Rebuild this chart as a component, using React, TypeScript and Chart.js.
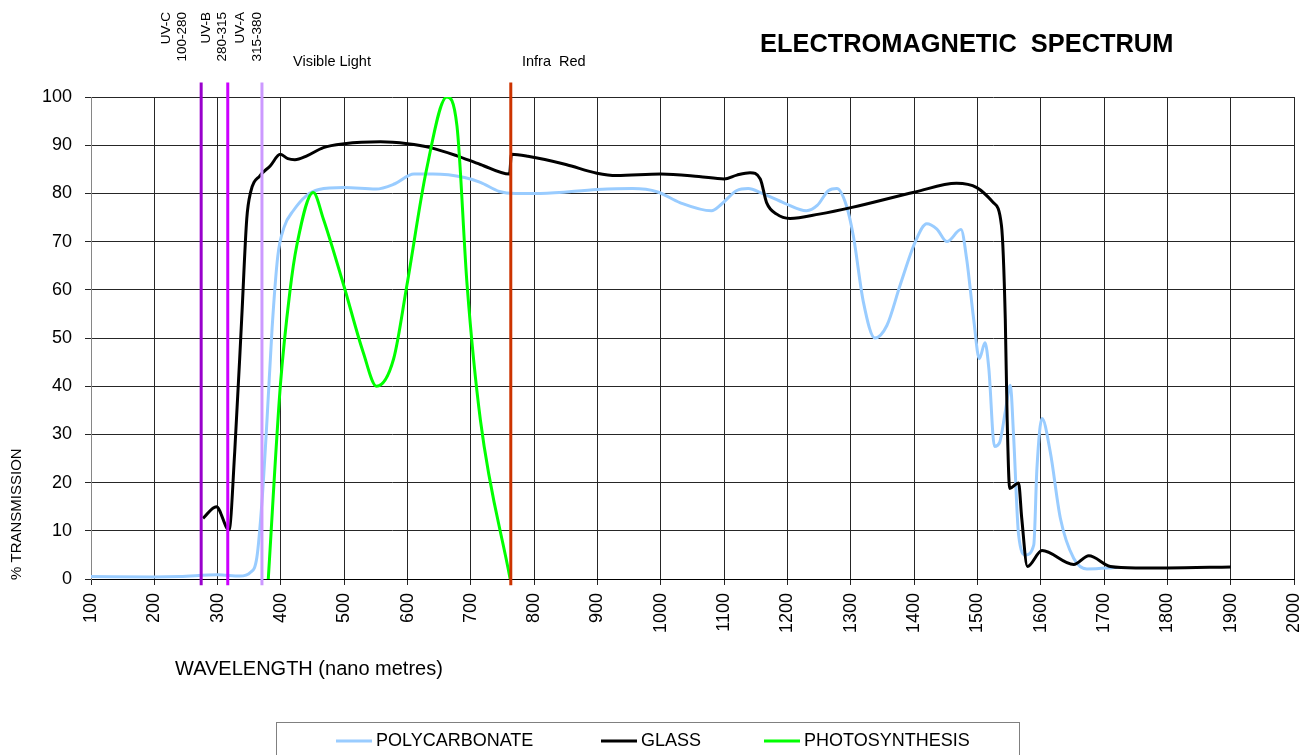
import React, { useEffect, useRef } from "react";
import { Chart, registerables } from "chart.js";

Chart.register(...registerables);

const FONT = "'Liberation Sans', Arial, Helvetica, sans-serif";

// ---- data ----
const xTickValues = [100, 200, 300, 400, 500, 600, 700, 800, 900, 1000, 1100, 1200, 1300, 1400, 1500, 1600, 1700, 1800, 1900, 2000];
const yTickValues = [0, 10, 20, 30, 40, 50, 60, 70, 80, 90, 100];

const polyNm = [100, 200, 240, 300, 335, 352, 362, 370, 378, 386, 395, 405, 420, 440, 460, 500, 550, 580, 610, 640, 690, 715, 745, 770, 810, 900, 955, 995, 1030, 1080, 1096, 1120, 1138, 1160, 1195, 1230, 1247, 1265, 1278, 1293, 1304, 1320, 1338, 1357, 1378, 1402, 1420, 1436, 1452, 1474, 1483, 1494, 1503, 1512, 1518, 1527, 1535, 1544, 1552, 1557, 1565, 1576, 1589, 1594, 1602, 1615, 1631, 1652, 1673, 1710, 1720];
const polyPct = [0.5, 0.4, 0.5, 0.9, 0.6, 1.4, 4.5, 16, 33, 52, 67, 73, 76.5, 79.5, 80.8, 81.2, 80.9, 82, 84, 84, 83.3, 82.3, 80.4, 80, 80, 80.8, 81, 80.3, 78.1, 76.4, 77.8, 80.6, 81, 80, 78, 76.4, 77.5, 80.6, 81, 77.5, 71.2, 57.4, 50, 52.6, 61, 70, 73.7, 72.6, 70, 72.5, 66.4, 54, 45.7, 49, 43.7, 27.5, 28.3, 34.7, 40.2, 30, 9.2, 5, 7.1, 23, 33.3, 26.4, 12.6, 4.3, 2.1, 2.3, 2.4];

const glassNm = [277, 298, 318, 327, 338, 346, 352, 367, 383, 399, 411, 422, 441, 467, 500, 557, 600, 636, 678, 715, 761, 764, 790, 850, 899, 930, 1000, 1060, 1100, 1120, 1141, 1157, 1167, 1183, 1204, 1250, 1302, 1402, 1467, 1499, 1525, 1538, 1544, 1547, 1551, 1565, 1570, 1579, 1602, 1652, 1676, 1710, 1750, 1800, 1900];
const glassPct = [12.6, 15, 10.2, 26.4, 54, 74.7, 80.2, 83.7, 85.7, 88.1, 87.2, 87, 87.8, 89.5, 90.3, 90.7, 90.3, 89.5, 87.8, 86, 84, 88.1, 87.7, 86, 84.2, 83.7, 84, 83.5, 83, 83.8, 84.3, 83, 78.1, 75.7, 74.8, 75.7, 77.1, 80.3, 82.1, 81.2, 78.1, 73.3, 54, 33, 18.8, 19.9, 12.6, 2.6, 5.9, 3, 4.8, 2.6, 2.3, 2.3, 2.5];

const photoNm = [380, 399, 414, 425, 451, 467, 499, 530, 551, 578, 599, 630, 662, 678, 694, 715, 762];
const photoPct = [0, 40, 59.5, 69.2, 80.2, 74.7, 61, 47, 40, 45.7, 61, 85, 100, 94, 61, 33, 0];

// band boundary markers (wavelength in nm)
const markerNm = [274, 316, 370, 763];
const markerSpan = [-1.3, 103];

const seriesNames = ["POLYCARBONATE", "GLASS", "PHOTOSYNTHESIS"];

const pts = (xs: number[], ys: number[]) => xs.map((x, i) => ({ x, y: ys[i] }));

const COLORS = {
  poly: "#99CCFF",
  glass: "#000000",
  photo: "#00FF00",
  markers: ["#9900CC", "#CC00FF", "#CC99FF", "#CC3300"],
};

function drawText(
  ctx: CanvasRenderingContext2D,
  s: string,
  x: number,
  y: number,
  size: number,
  align: CanvasTextAlign = "left",
  bold = false,
  rot = 0
) {
  ctx.save();
  ctx.translate(x, y);
  if (rot) ctx.rotate(rot);
  ctx.font = `${bold ? "bold " : ""}${size}px ${FONT}`;
  ctx.textAlign = align;
  ctx.textBaseline = "middle";
  ctx.fillStyle = "#000";
  ctx.fillText(s, 0, 0);
  ctx.restore();
}

const annotations = {
  id: "annotations",
  afterDraw(chart: any) {
    const ctx: CanvasRenderingContext2D = chart.ctx;
    const R = -Math.PI / 2;
    // band labels (rotated)
    drawText(ctx, "UV-C", 166, 12, 13.5, "right", false, R);
    drawText(ctx, "100-280", 182, 12, 13.5, "right", false, R);
    drawText(ctx, "UV-B", 206, 12, 13.5, "right", false, R);
    drawText(ctx, "280-315", 222.5, 12, 13.5, "right", false, R);
    drawText(ctx, "UV-A", 240.5, 12, 13.5, "right", false, R);
    drawText(ctx, "315-380", 257.5, 12, 13.5, "right", false, R);
    drawText(ctx, "Visible Light", 293, 62, 14.5);
    drawText(ctx, "Infra  Red", 522, 62, 14.5);
    // title
    drawText(ctx, "ELECTROMAGNETIC  SPECTRUM", 760, 45, 25.4, "left", true);
    // axis titles
    drawText(ctx, "WAVELENGTH (nano metres)", 175, 669, 20);
    drawText(ctx, "% TRANSMISSION", 17, 580, 15, "left", false, R);
    // legend
    ctx.save();
    ctx.strokeStyle = "#808080";
    ctx.lineWidth = 1;
    ctx.strokeRect(276.5, 722.5, 743, 60);
    const items = [
      { x: 336, c: COLORS.poly, t: seriesNames[0] },
      { x: 601, c: COLORS.glass, t: seriesNames[1] },
      { x: 764, c: COLORS.photo, t: seriesNames[2] },
    ];
    items.forEach((it) => {
      ctx.strokeStyle = it.c;
      ctx.lineWidth = 3;
      ctx.beginPath();
      ctx.moveTo(it.x, 741);
      ctx.lineTo(it.x + 36, 741);
      ctx.stroke();
      drawText(ctx, it.t, it.x + 40, 741, 18);
    });
    ctx.restore();
  },
};

export default function App() {
  const ref = useRef<HTMLCanvasElement | null>(null);

  useEffect(() => {
    if (!ref.current) return;
    const markerSets = markerNm.map((nm, i) => ({
      label: "marker" + i,
      data: markerSpan.map((y) => ({ x: nm, y })),
      borderColor: COLORS.markers[i],
      backgroundColor: COLORS.markers[i],
      borderWidth: 3,
      pointRadius: 0,
      clip: false as any,
      tension: 0,
    }));
    const chart = new Chart(ref.current, {
      type: "line",
      data: {
        datasets: [
          ...markerSets,
          {
            label: seriesNames[2],
            data: pts(photoNm, photoPct),
            borderColor: COLORS.photo,
            backgroundColor: COLORS.photo,
            borderWidth: 3,
            pointRadius: 0,
            cubicInterpolationMode: "monotone",
          },
          {
            label: seriesNames[1],
            data: pts(glassNm, glassPct),
            borderColor: COLORS.glass,
            backgroundColor: COLORS.glass,
            borderWidth: 3,
            pointRadius: 0,
            cubicInterpolationMode: "monotone",
          },
          {
            label: seriesNames[0],
            data: pts(polyNm, polyPct),
            borderColor: COLORS.poly,
            backgroundColor: COLORS.poly,
            borderWidth: 3,
            pointRadius: 0,
            cubicInterpolationMode: "monotone",
          },
        ],
      },
      options: {
        responsive: false,
        animation: false,
        devicePixelRatio: 1,
        layout: { padding: { left: 0, top: 97, right: 18, bottom: 0 } },
        plugins: {
          legend: { display: false },
          tooltip: { enabled: false },
          title: { display: false },
        },
        scales: {
          x: {
            type: "linear",
            min: 100,
            max: 2000,
            afterBuildTicks: (s: any) => {
              s.ticks = xTickValues.map((v) => ({ value: v }));
            },
            afterFit: (s: any) => {
              s.height = 176;
              s.paddingLeft = 0;
              s.paddingRight = 0;
            },
            ticks: {
              color: "#000",
              font: { family: FONT, size: 18 },
              maxRotation: 90,
              minRotation: 90,
              padding: 8,
              autoSkip: false,
              callback: (v: any) => String(v),
            },
            grid: { color: "#262626", lineWidth: 1, tickLength: 6, drawTicks: true },
            border: { color: "#000", width: 1 },
          },
          y: {
            type: "linear",
            min: 0,
            max: 100,
            afterBuildTicks: (s: any) => {
              s.ticks = yTickValues.map((v) => ({ value: v }));
            },
            afterFit: (s: any) => {
              s.width = 91;
              s.paddingTop = 0;
              s.paddingBottom = 0;
            },
            ticks: {
              color: "#000",
              font: { family: FONT, size: 18 },
              padding: 13,
              autoSkip: false,
            },
            grid: { color: "#262626", lineWidth: 1, tickLength: 6, drawTicks: true },
            border: { color: "#868686", width: 1 },
          },
        },
      },
      plugins: [annotations],
    });
    return () => chart.destroy();
  }, []);

  return (
    <div style={{ position: "absolute", left: 0, top: 0, width: 1312, height: 755, background: "#fff" }}>
      <canvas ref={ref} width={1312} height={755} style={{ display: "block" }} />
    </div>
  );
}
